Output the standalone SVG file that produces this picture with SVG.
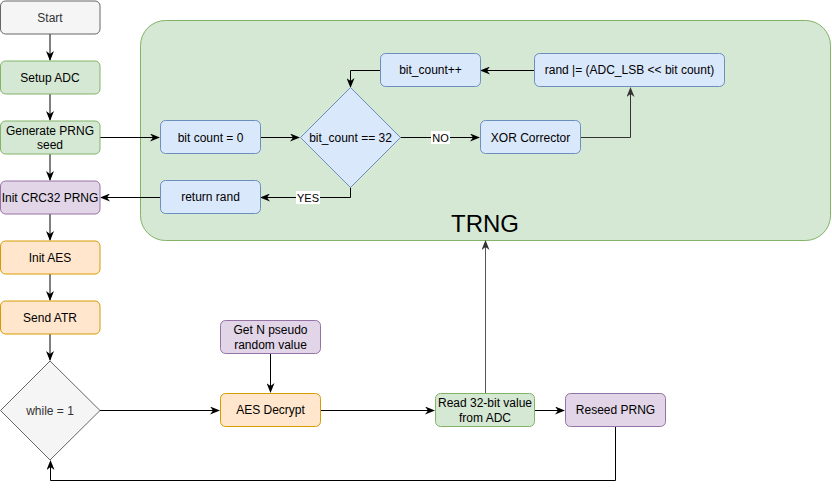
<svg xmlns="http://www.w3.org/2000/svg" width="832" height="490" viewBox="0 0 832 490">
<defs>
<style>
text{font-family:"Liberation Sans",Arial,sans-serif;font-size:12px;fill:#000;text-anchor:middle;dominant-baseline:central}
.gray rect,.gray path{fill:#f5f5f5;stroke:#666}
.gray text{fill:#333}
.green rect{fill:#d5e8d4;stroke:#82b366}
.purple rect{fill:#e1d5e7;stroke:#9673a6}
.orange rect{fill:#ffe6cc;stroke:#d79b00}
.blue rect,.blue path{fill:#dae8fc;stroke:#6c8ebf}
.edge{fill:none;stroke:#000;stroke-width:1}
.lbl{font-size:11px}
</style>
<marker id="arr" viewBox="0 0 10 8" refX="9" refY="4" markerWidth="10" markerHeight="8" markerUnits="userSpaceOnUse" orient="auto">
<path d="M0,0 L10,4 L0,8 L3,4 z" fill="#000"/>
</marker>
<marker id="arrg" viewBox="0 0 10 8" refX="9" refY="4" markerWidth="10" markerHeight="8" markerUnits="userSpaceOnUse" orient="auto">
<path d="M0,0 L10,4 L0,8 L3,4 z" fill="#333"/>
</marker>
</defs>

<g id="trng">
<rect x="140.5" y="20.5" width="690" height="220" rx="25" fill="#d5e8d4" stroke="#82b366"/>
<text x="485" y="223" style="font-size:24px">TRNG</text>
</g>

<g id="connectors">
<path class="edge" d="M50,34 V60" marker-end="url(#arr)"/>
<path class="edge" d="M50,94 V120" marker-end="url(#arr)"/>
<path class="edge" d="M50,154 V180" marker-end="url(#arr)"/>
<path class="edge" d="M50,214 V240" marker-end="url(#arr)"/>
<path class="edge" d="M50,274 V300" marker-end="url(#arr)"/>
<path class="edge" d="M50,334 V360" marker-end="url(#arr)"/>
<path class="edge" d="M100,137.5 H159" marker-end="url(#arr)"/>
<path class="edge" d="M160,197.5 H101" marker-end="url(#arr)"/>
<path class="edge" d="M260,137.5 H299" marker-end="url(#arr)"/>
<path class="edge" d="M400,137.5 H479" marker-end="url(#arr)"/>
<path class="edge" d="M580,137.5 H630.5 V88" style="stroke:#333" marker-end="url(#arrg)"/>
<path class="edge" d="M534,70.5 H481" marker-end="url(#arr)"/>
<path class="edge" d="M380,70.5 H350.5 V87" marker-end="url(#arr)"/>
<path class="edge" d="M350.5,187 V197.5 H261" marker-end="url(#arr)"/>
<path class="edge" d="M100,410.5 H219" marker-end="url(#arr)"/>
<path class="edge" d="M270.5,354 V392" marker-end="url(#arr)"/>
<path class="edge" d="M320,410.5 H434" marker-end="url(#arr)"/>
<path class="edge" d="M535,410.5 H564" marker-end="url(#arr)"/>
<path class="edge" d="M485.5,393 V241" style="stroke:#555" marker-end="url(#arrg)"/>
<path class="edge" d="M615.5,427 V480.5 H50.5 V461" marker-end="url(#arr)"/>
<rect x="431" y="131" width="19" height="13" fill="#fff"/>
<text class="lbl" x="440.5" y="137.5">NO</text>
<rect x="296" y="191" width="24" height="13" fill="#fff"/>
<text class="lbl" x="308" y="197.5">YES</text>
</g>

<g id="start" class="gray"><rect x="0.5" y="1" width="99.5" height="33" rx="5"/><text x="50" y="17.5">Start</text></g>
<g id="setup-adc" class="green"><rect x="0.5" y="61" width="99.5" height="33" rx="5"/><text x="50" y="77.5">Setup ADC</text></g>
<g id="gen-prng" class="green"><rect x="0.5" y="121" width="99.5" height="33" rx="5"/><text x="50" y="130.5">Generate PRNG</text><text x="50" y="145">seed</text></g>
<g id="init-crc" class="purple"><rect x="0.5" y="181" width="99.5" height="33" rx="5"/><text x="50" y="197.5">Init CRC32 PRNG</text></g>
<g id="init-aes" class="orange"><rect x="0.5" y="241" width="99.5" height="33" rx="5"/><text x="50" y="257.5">Init AES</text></g>
<g id="send-atr" class="orange"><rect x="0.5" y="301" width="99.5" height="33" rx="5"/><text x="50" y="317.5">Send ATR</text></g>
<g id="while" class="gray"><path d="M50,361 L100,410.5 L50,460 L0.5,410.5 Z"/><text x="50" y="410.5">while = 1</text></g>

<g id="get-n" class="purple"><rect x="220.5" y="320.5" width="100" height="33" rx="5"/><text x="270.5" y="330">Get N pseudo</text><text x="270.5" y="344.5">random value</text></g>
<g id="aes-decrypt" class="orange"><rect x="220.5" y="393.5" width="100" height="33" rx="5"/><text x="270.5" y="410">AES Decrypt</text></g>
<g id="read-adc" class="green"><rect x="435.5" y="393.5" width="99" height="33" rx="5"/><text x="485" y="403">Read 32-bit value</text><text x="485" y="417.5">from ADC</text></g>
<g id="reseed" class="purple"><rect x="565.5" y="393.5" width="100" height="33" rx="5"/><text x="615.5" y="410">Reseed PRNG</text></g>

<g id="bit-count-0" class="blue"><rect x="160.5" y="120.5" width="100" height="33" rx="5"/><text x="210.5" y="137.5">bit count = 0</text></g>
<g id="bit-count-eq" class="blue"><path d="M350.5,87.5 L400.5,137.5 L350.5,187.5 L300.5,137.5 Z"/><text x="350.5" y="137.5">bit_count == 32</text></g>
<g id="xor" class="blue"><rect x="480.5" y="120.5" width="100" height="33" rx="5"/><text x="530.5" y="137.5">XOR Corrector</text></g>
<g id="rand-or" class="blue"><rect x="534.5" y="53.5" width="190" height="33" rx="5"/><text x="629.5" y="70">rand |= (ADC_LSB &lt;&lt; bit count)</text></g>
<g id="bit-count-inc" class="blue"><rect x="380.5" y="53.5" width="100" height="33" rx="5"/><text x="430.5" y="70">bit_count++</text></g>
<g id="return-rand" class="blue"><rect x="160.5" y="180.5" width="100" height="33" rx="5"/><text x="210.5" y="197">return rand</text></g>
</svg>
